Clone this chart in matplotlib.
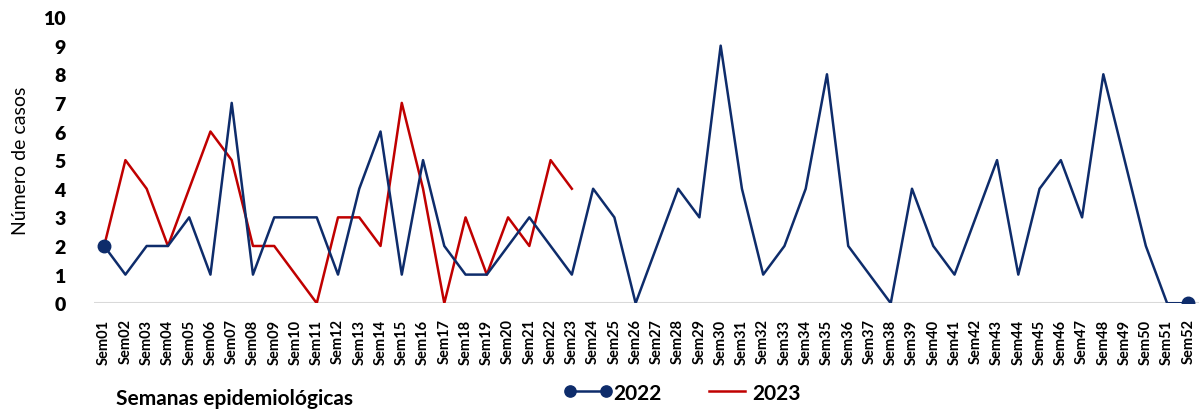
import matplotlib.pyplot as plt

plt.rcParams['font.family'] = ['Lato', 'DejaVu Sans']

# semanas epidemiologicas
weeks = [f'Sem{i:02d}' for i in range(1, 53)]

cases_2022 = [2, 1, 2, 2, 3, 1, 7, 1, 3, 3, 3, 1, 4, 6, 1, 5, 2, 1, 1, 2,
              3, 2, 1, 4, 3, 0, 2, 4, 3, 9, 4, 1, 2, 4, 8, 2, 1, 0, 4, 2,
              1, 3, 5, 1, 4, 5, 3, 8, 5, 2, 0, 0]
cases_2023 = [2, 5, 4, 2, 4, 6, 5, 2, 2, 1, 0, 3, 3, 2, 7, 4, 0, 3, 1, 3,
              2, 5, 4]

navy = '#0E2C6B'
red = '#C00000'

fig = plt.figure(figsize=(11.99, 4.10), dpi=100)
ax = fig.add_axes([0.078, 0.258, 0.922, 0.698])

x22 = list(range(len(cases_2022)))
x23 = list(range(len(cases_2023)))
ax.plot(x22, cases_2022, color=navy, lw=1.8, marker='o', ms=9,
        markevery=[0, len(cases_2022) - 1], label='2022', zorder=3)
ax.plot(x23, cases_2023, color=red, lw=1.8, label='2023', zorder=2)

ax.set_xlim(-0.5, len(weeks) - 0.5)
ax.set_ylim(0, 10)
ax.set_yticks(range(0, 11))
ax.set_xticks(x22)
ax.set_xticklabels(weeks, rotation=90, fontsize=10.5, fontweight='bold')
for lab in ax.get_yticklabels():
    lab.set_fontweight('heavy')
    lab.set_fontsize(14)
ax.tick_params(length=0)
ax.tick_params(axis='y', pad=20)
ax.tick_params(axis='x', pad=11)

for s in ax.spines.values():
    s.set_visible(False)
ax.axhline(0, color='#D9D9D9', lw=1.5, zorder=1)

ax.set_ylabel('Número de casos', fontsize=14, labelpad=10)

fig.text(0.097, 0.012, 'Semanas epidemiológicas', fontsize=15,
         fontweight='bold')

leg = fig.legend(loc='center', bbox_to_anchor=(0.569, 0.04), ncol=2,
                 frameon=False, prop={'size': 15, 'weight': 'bold'},
                 handlelength=2.3, handletextpad=0.05, columnspacing=2.0,
                 numpoints=2, markerscale=0.9)

fig.savefig('out.png', dpi=100)
